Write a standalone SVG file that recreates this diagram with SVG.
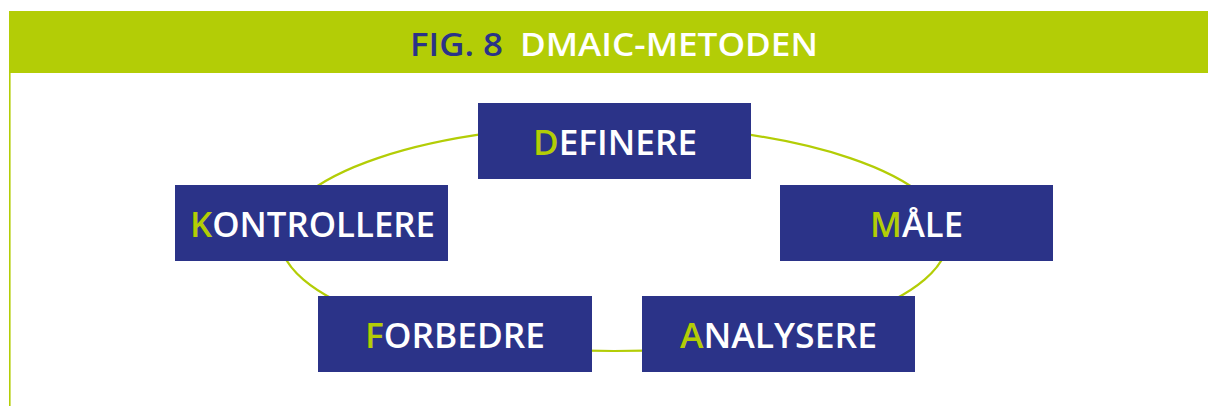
<svg xmlns="http://www.w3.org/2000/svg" width="1208" height="406" viewBox="0 0 1208 406">
<style>
.box{fill:#2b3388}
.lbl{font-family:"Open Sans","Liberation Sans",sans-serif;font-weight:600;font-size:34px;fill:#ffffff;text-anchor:middle}
.ini{fill:#b3cd06}
.ttl{font-family:"Open Sans","Liberation Sans",sans-serif;font-weight:600;font-size:33px}
</style>
<rect x="0" y="0" width="1208" height="406" fill="#ffffff"/>
<rect x="9" y="11" width="1199" height="62" fill="#b3cd06"/>
<line x1="9.8" y1="72" x2="9.8" y2="406" stroke="#b3cd06" stroke-width="1.6"/>
<g id="title">
<text class="ttl" x="410" y="56" fill="#2b3388" textLength="93" lengthAdjust="spacingAndGlyphs">FIG. 8</text>
<text class="ttl" x="520" y="56" fill="#ffffff" textLength="298" lengthAdjust="spacingAndGlyphs">DMAIC-METODEN</text>
</g>
<g id="connectors">
<ellipse cx="614" cy="238" rx="334" ry="113" fill="none" stroke="#b3cd06" stroke-width="2.2"/>
</g>
<g id="definere">
<rect class="box" x="478" y="103" width="273" height="76"/>
<text class="lbl" x="615" y="155" textLength="164" lengthAdjust="spacingAndGlyphs"><tspan class="ini">D</tspan>EFINERE</text>
</g>
<g id="male">
<rect class="box" x="780" y="185" width="273" height="76"/>
<text class="lbl" x="916.5" y="236.5" textLength="93" lengthAdjust="spacingAndGlyphs"><tspan class="ini">M</tspan>ÅLE</text>
</g>
<g id="analysere">
<rect class="box" x="642" y="296" width="273" height="76"/>
<text class="lbl" x="778.5" y="347.5" textLength="197" lengthAdjust="spacingAndGlyphs"><tspan class="ini">A</tspan>NALYSERE</text>
</g>
<g id="forbedre">
<rect class="box" x="318" y="296" width="274" height="76"/>
<text class="lbl" x="455" y="347.5" textLength="180" lengthAdjust="spacingAndGlyphs"><tspan class="ini">F</tspan>ORBEDRE</text>
</g>
<g id="kontrollere">
<rect class="box" x="175" y="185" width="273" height="76"/>
<text class="lbl" x="312.5" y="236.5" textLength="245" lengthAdjust="spacingAndGlyphs"><tspan class="ini">K</tspan>ONTROLLERE</text>
</g>
</svg>
